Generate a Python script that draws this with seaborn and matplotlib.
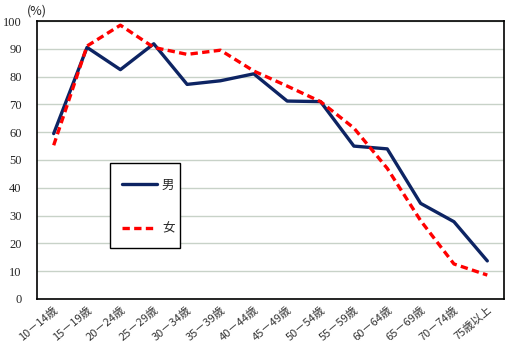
import pandas as pd
import seaborn as sns
import matplotlib.pyplot as plt
from matplotlib.patches import Rectangle

# age groups and rates (%)
ages = ["10－14歳", "15－19歳", "20－24歳", "25－29歳", "30－34歳", "35－39歳", "40－44歳",
        "45－49歳", "50－54歳", "55－59歳", "60－64歳", "65－69歳", "70－74歳", "75歳以上"]
male = [59.5, 90.5, 82.5, 91.8, 77.2, 78.5, 81.0, 71.2, 71.0, 55.0, 54.0, 34.4, 27.8, 13.7]
female = [55.3, 91.0, 98.5, 90.5, 88.0, 89.5, 82.0, 76.6, 71.0, 61.5, 47.0, 28.2, 12.6, 8.6]

df = pd.DataFrame({
    "age": ages * 2,
    "rate": male + female,
    "sex": ["男"] * len(ages) + ["女"] * len(ages),
})

sns.set_style("white")
plt.rcParams["font.family"] = ["Noto Sans CJK JP", "DejaVu Sans"]

fig = plt.figure(figsize=(5.14, 3.53), dpi=100)
ax = fig.add_axes([0.072, 0.153, 0.9085, 0.7875])

sns.lineplot(
    data=df, x="age", y="rate", hue="sex", style="sex",
    palette={"男": "#0d2463", "女": "#ff0000"},
    dashes={"男": "", "女": (2.2, 1.3)},
    linewidth=2.4, sort=False, ax=ax,
)

ax.set_xlim(-0.5, len(ages) - 0.5)
ax.set_ylim(0, 100)
ax.set_yticks(range(0, 101, 10))
ax.yaxis.grid(True, color="#c8d2c8", linewidth=1)
ax.set_axisbelow(True)
ax.set_xlabel("")
ax.set_ylabel("")
ax.tick_params(axis="x", length=0, pad=4)
ax.tick_params(axis="y", length=0, pad=11)
ax.set_xticks(range(len(ages)))
ax.set_xticklabels(ages, rotation=40, ha="right", rotation_mode="anchor",
                   fontsize=8, color="#333333")
for lab in ax.get_yticklabels():
    lab.set_fontfamily("Liberation Serif")
    lab.set_fontsize(9)
for s in ax.spines.values():
    s.set_color("black")
    s.set_linewidth(1.2)

fig.text(0.053, 0.968, "(%)", fontsize=9, ha="left", va="center")

# legend box drawn separately so its proportions match the original
ax.add_patch(Rectangle((0.156, 0.183), 0.150, 0.306, transform=ax.transAxes,
                       facecolor="white", edgecolor="black", linewidth=1.0, zorder=4))
leg = ax.legend(loc="upper left", bbox_to_anchor=(0.182, 0.433), borderaxespad=0,
                frameon=False, fontsize=9, labelspacing=2.44, handlelength=2.8,
                borderpad=0, handletextpad=0.4)
leg.set_zorder(5)

plt.savefig("out.png", dpi=100)
